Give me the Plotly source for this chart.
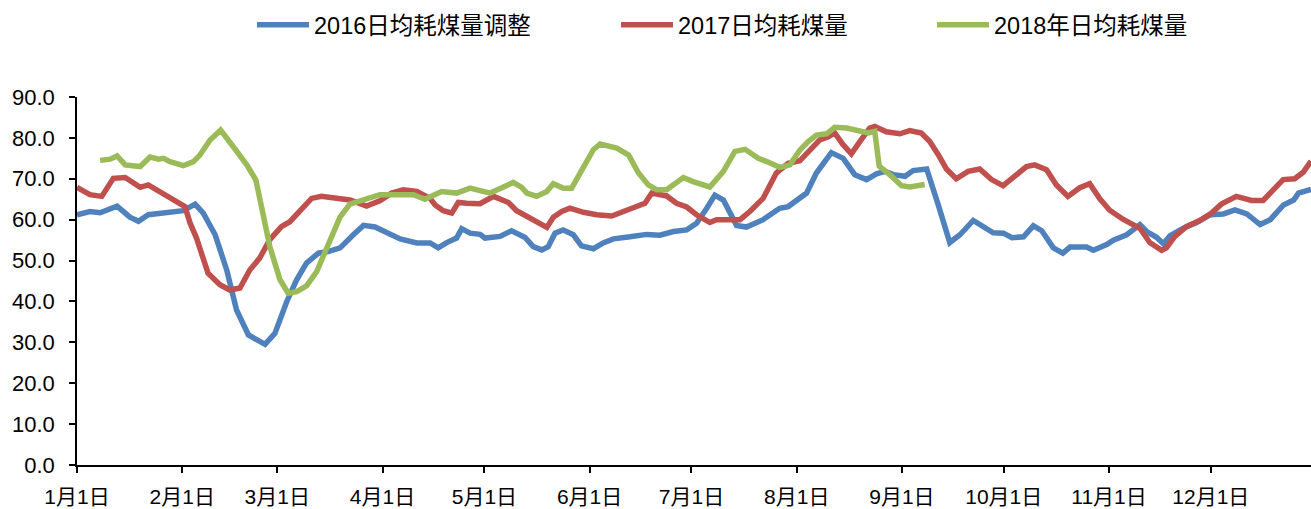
import pandas as pd
import plotly.graph_objects as go

# ---- data (day offset from 1 Jan, value) ----
days_2016 = [0, 3.8, 6.8, 9.8, 11.8, 15.6, 18.1, 21, 24.5, 31.3, 34.8, 37.2, 40.7, 44.1, 47, 50.5, 55.4, 58.3,
             61.8, 64.7, 67.6, 71.1, 74, 77.5, 81.4, 84.4, 87.8, 90.3, 95.2, 100.1, 104, 106.4, 108.9, 111.8,
             113.3, 115.8, 118.7, 120.2, 124.6, 128, 131.9, 134.4, 136.9, 138.8, 140.8, 143.2, 146.2, 148.6,
             152.1, 155, 158, 162.9, 167.8, 171.7, 175.7, 179.6, 182.5, 185.5, 187.9, 190.4, 192.3, 194.3,
             197.2, 202.1, 207, 209.5, 214.9, 217.8, 222.2, 225.7, 229.1, 232.6, 235.5, 238, 240.5, 243.9,
             246.3, 250.3, 253.7, 257.1, 260.1, 264, 269.9, 272.9, 275.4, 278.8, 281.7, 284.2, 287.6, 290.4,
             292.5, 297.4, 299.4, 303.3, 305.3, 309.2, 313.1, 315.1, 318, 320, 322, 325.9, 329.8, 333.8,
             337.7, 341.1, 344.6, 348.5, 351.5, 355.4, 358.4, 359.8, 363.5]
vals_2016 = [61.2, 62, 61.7, 62.8, 63.3, 60.6, 59.6, 61.2, 61.6, 62.2, 63.8, 61.6, 56.3, 47.7, 37.9, 31.8, 29.5, 32.2,
             40, 45.3, 49.4, 51.8, 52.2, 53.1, 56.3, 58.6, 58.2, 57.1, 55.3, 54.3, 54.3, 53.1, 54.4, 55.5,
             57.8, 56.7, 56.4, 55.5, 55.9, 57.3, 55.7, 53.4, 52.6, 53.4, 56.7, 57.5, 56.3, 53.6,
             52.9, 54.3, 55.3, 55.8, 56.4, 56.2, 57.1, 57.5, 59.1, 62.8, 66, 64.8, 61.6, 58.6,
             58.2, 60, 62.8, 63.2, 66.5, 71.4, 76.4, 75, 71, 69.8, 71.2, 71.8, 71, 70.6,
             72, 72.4, 63.6, 54.4, 56.3, 59.8, 56.8, 56.7, 55.6, 55.8, 58.5, 57.3, 53.1, 51.8,
             53.3, 53.3, 52.5, 53.9, 55, 56.3, 58.8, 57.1, 55.7, 54.1, 56.1, 57.9, 59.3, 61.2,
             61.4, 62.4, 61.4, 58.8, 60, 63.6, 64.8, 66.5, 67.4]

days_2017 = [0, 3.8, 7.3, 10.7, 14.2, 18.6, 21, 24.5, 28.4, 31.8, 33.3, 35.2, 38.6, 42.1, 45, 48, 50.9, 53.8,
             56.8, 60.2, 62.7, 65.6, 69.1, 72, 75.5, 80.4, 85.3, 89.2, 92.7, 96.1, 100.1, 104, 105.5, 107.9,
             110.4, 112.3, 114.8, 118.7, 122.7, 127.1, 129.5, 132.5, 135.4, 138.4, 140.3, 142.8, 145.2,
             149.2, 153.1, 157.5, 162.9, 167.3, 169.3, 173.7, 176.6, 179.6, 182.5, 186.4, 188.4, 195.3,
             198.2, 202.1, 206, 209.5, 212.9, 215.8, 218.8, 221.2, 223.2, 225.6, 228.1, 230.6, 233.5,
             235, 238.4, 242.4, 245.3, 248.7, 251.2, 253.7, 256.1, 259, 262.5, 265.9, 269.4, 272.8,
             276.7, 279.7, 282.1, 285.6, 288.5, 291.9, 295.4, 298.3, 301.3, 304.2, 308.1, 313.1, 316,
             319.5, 320.9, 323.4, 326.8, 330.7, 334.2, 337.1, 341.5, 346, 349.4, 355.3, 358.7, 361.2, 363.5]
vals_2017 = [67.9, 66.1, 65.7, 70.1, 70.3, 67.9, 68.5, 66.9, 64.8, 63.2, 59.2, 55.5, 46.9, 44.1, 42.8, 43.3, 47.7, 50.6,
             55.1, 58.3, 59.5, 62, 65.2, 65.7, 65.2, 64.8, 63.3, 64.6, 66.5, 67.3, 66.9, 65.2, 63.6, 62.2,
             61.6, 64.2, 64, 63.9, 65.7, 64.2, 62.2, 60.8, 59.2, 58.1, 60.6, 62, 62.8,
             61.8, 61.2, 60.9, 62.6, 64, 66.5, 65.8, 64, 63.1, 61.2, 59.3, 60, 60,
             62, 65.2, 71.4, 73.8, 74.4, 77, 79.5, 80.2, 81.2, 78.4, 76.1, 79.1, 82.4,
             82.8, 81.5, 81, 81.8, 81.2, 79.1, 75.9, 72.4, 70, 71.8, 72.4, 69.8, 68.3,
             71, 73, 73.4, 72.2, 68.5, 65.7, 67.8, 68.8, 65.1, 62.3, 60.1, 57.9, 54.4,
             52.5, 53.1, 55.9, 58.3, 59.8, 61.6, 63.8, 65.7, 64.7, 64.7, 69.8, 70, 71.6, 74.3]

days_2018 = [6.8, 9.8, 11.8, 14.2, 18.6, 21.5, 24, 25.5, 27.4, 31.3, 34.3, 36.2, 39.2, 42.3, 46, 50, 52.7, 54.9,
             56.8, 59.8, 62.2, 64.7, 67.6, 70.6, 74, 77.5, 80.4, 84.4, 89.2, 93.2, 99.1, 102.5, 107.4, 111.8,
             115.8, 121.7, 128.5, 131, 132.5, 135.4, 138.4, 140.3, 143.3, 145.7, 149.2, 152.1, 154.1, 159,
             162.5, 165.4, 168.3, 170.8, 173.7, 178.6, 181.5, 186.4, 190.4, 193.8, 196.8, 200.7, 203.2, 207,
             210, 212.9, 215.4, 217.8, 220.8, 223.2, 226.7, 229.1, 233.1, 235, 236.3, 239.4, 242.9, 245.3,
             247.3, 249.7]
vals_2018 = [74.5, 74.8, 75.6, 73.4, 73, 75.3, 74.8, 75, 74.2, 73.2, 74.2, 75.8, 79.5, 81.9, 77.9, 73.4, 69.7, 61.6,
             53.4, 45.3, 42, 42.4, 43.8, 47.3, 54.2, 60.7, 63.8, 64.8, 66.1, 66.1, 66.1, 65, 66.9, 66.5,
             67.7, 66.5, 69.1, 67.9, 66.5, 65.7, 66.9, 68.8, 67.7, 67.7, 73.1, 77.1, 78.5, 77.5,
             75.8, 71.4, 68.5, 67.3, 67.3, 70.3, 69.3, 68, 71.8, 76.7, 77.2, 75, 74.2, 72.8,
             73.4, 77, 79.1, 80.7, 81, 82.6, 82.4, 82, 81.2, 81.6, 73.1, 71, 68.3, 68,
             68.3, 68.6]

names = ["2016日均耗煤量调整", "2017日均耗煤量", "2018年日均耗煤量"]
colors = ["#4F81BD", "#C0504D", "#9BBB59"]

month_starts = ["2017-%02d-01" % m for m in range(1, 13)]
month_labels = ["%d月1日" % m for m in range(1, 13)]

base = pd.Timestamp("2017-01-01")


def to_dates(days):
    return [base + pd.Timedelta(days=d) for d in days]


fig = go.Figure()
series = [(days_2016, vals_2016), (days_2017, vals_2017), (days_2018, vals_2018)]
legend_ids = ["legend", "legend2", "legend3"]
for (d, v), name, col, lg in zip(series, names, colors, legend_ids):
    fig.add_trace(go.Scatter(x=to_dates(d), y=v, mode="lines", name=name,
                             line=dict(color=col, width=5.5), legend=lg))

font_family = "Liberation Sans, Arial, Noto Sans CJK SC, sans-serif"
W, H = 1311, 509
ml, mr, mt, mb = 77, 0, 97, 44
pw = W - ml - mr
ph = H - mt - mb


def lx(px):
    return (px - ml) / pw


ly = 1 + (mt - 25) / ph
leg_common = dict(orientation="h", xanchor="left", yanchor="middle", y=ly,
                  font=dict(size=23.5, color="#000000", family=font_family),
                  itemwidth=52, bgcolor="rgba(0,0,0,0)", borderwidth=0)

fig.update_layout(
    width=W, height=H,
    margin=dict(l=ml, r=mr, t=mt, b=mb, autoexpand=False),
    paper_bgcolor="white", plot_bgcolor="white",
    font=dict(family=font_family, size=22, color="#000000"),
    showlegend=True,
    legend=dict(x=lx(252), **leg_common),
    legend2=dict(x=lx(616), **leg_common),
    legend3=dict(x=lx(932), **leg_common),
    xaxis=dict(type="date", range=[base, base + pd.Timedelta(days=363.5)],
               tickvals=month_starts, ticktext=month_labels,
               showgrid=False, zeroline=False, showline=True, linecolor="#000000", linewidth=1.5,
               ticks="outside", ticklen=6, tickcolor="#000000", tickwidth=1.5,
               tickfont=dict(size=21, family=font_family, color="#000000"), ticklabelstandoff=6),
    yaxis=dict(range=[0, 90], dtick=10, tick0=0, tickformat=".1f",
               showgrid=False, zeroline=False, showline=True, linecolor="#000000", linewidth=1.5,
               ticks="outside", ticklen=6, tickcolor="#000000", tickwidth=1.5,
               tickfont=dict(size=22, family=font_family, color="#000000"), ticklabelstandoff=10),
)

fig.write_html("out.html",
               config={"displayModeBar": False},
               post_script="document.body.style.margin='0';document.body.style.padding='0';"
                           "document.documentElement.style.overflow='hidden';")
